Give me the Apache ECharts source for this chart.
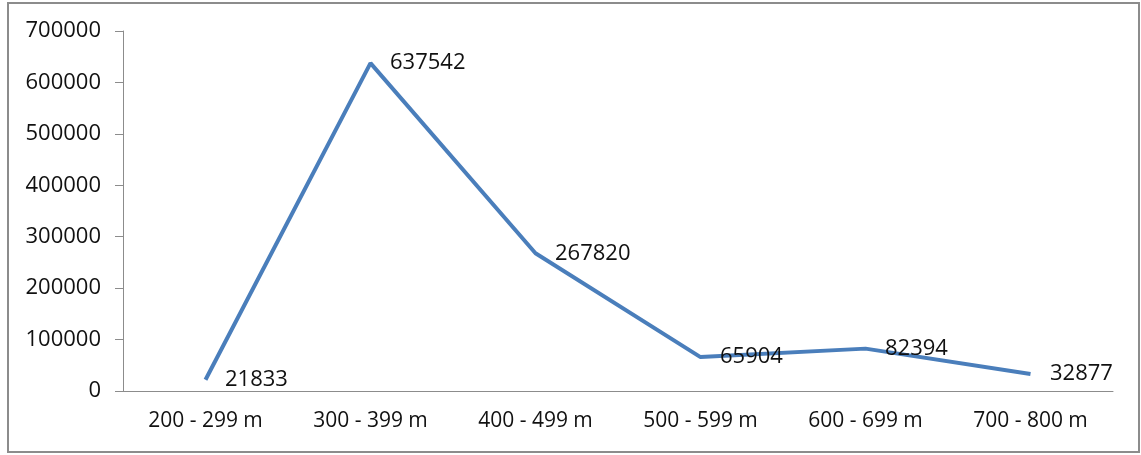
<!DOCTYPE html>
<html>
<head>
<meta charset="utf-8">
<script src="https://cdn.jsdelivr.net/npm/echarts@6/dist/echarts.min.js"></script>
<style>
  html, body { margin: 0; padding: 0; background: #fff; }
  #chart { width: 1141px; height: 455px; }
</style>
</head>
<body>
<div id="chart"></div>
<script>
// Counts per elevation band
const categories = ['200 - 299 m', '300 - 399 m', '400 - 499 m', '500 - 599 m', '600 - 699 m', '700 - 800 m'];
const values = [21833, 637542, 267820, 65904, 82394, 32877];

const FONT = '"Open Sans", "Noto Sans", sans-serif';
const chart = echarts.init(document.getElementById('chart'), null, { renderer: 'canvas' });

chart.setOption({
  animation: false,
  backgroundColor: '#ffffff',
  graphic: [{
    type: 'rect',
    shape: { x: 8, y: 3, width: 1131, height: 449 },
    style: { fill: 'none', stroke: '#8c8c8c', lineWidth: 2 },
    silent: true
  }],
  grid: { left: 123, right: 28, top: 31, bottom: 64, containLabel: false },
  xAxis: {
    type: 'category',
    data: categories,
    boundaryGap: true,
    axisLine: { lineStyle: { color: '#8c8c8c', width: 1 } },
    axisTick: { show: false },
    axisLabel: { color: '#111', fontFamily: FONT, fontSize: 21, margin: 20 }
  },
  yAxis: {
    type: 'value',
    min: 0,
    max: 700000,
    interval: 100000,
    axisLine: { show: true, lineStyle: { color: '#8c8c8c', width: 1 } },
    axisTick: { show: true, length: 8, lineStyle: { color: '#8c8c8c' } },
    splitLine: { show: false },
    axisLabel: {
      color: '#111', fontFamily: FONT, fontSize: 22, margin: 22,
      formatter: v => String(v)
    }
  },
  series: [{
    type: 'line',
    data: values,
    symbol: 'circle',
    symbolSize: 1,
    showSymbol: true,
    itemStyle: { color: 'rgba(0,0,0,0)', borderWidth: 0 },
    lineStyle: { color: '#4a7ebb', width: 4 },
    labelLayout: { hideOverlap: false },
    label: {
      show: true,
      position: 'right',
      distance: 19,
      offset: [1, 2],
      opacity: 1,
      color: '#111',
      fontFamily: FONT,
      fontSize: 22,
      formatter: p => String(p.value)
    }
  }]
});
</script>
</body>
</html>
